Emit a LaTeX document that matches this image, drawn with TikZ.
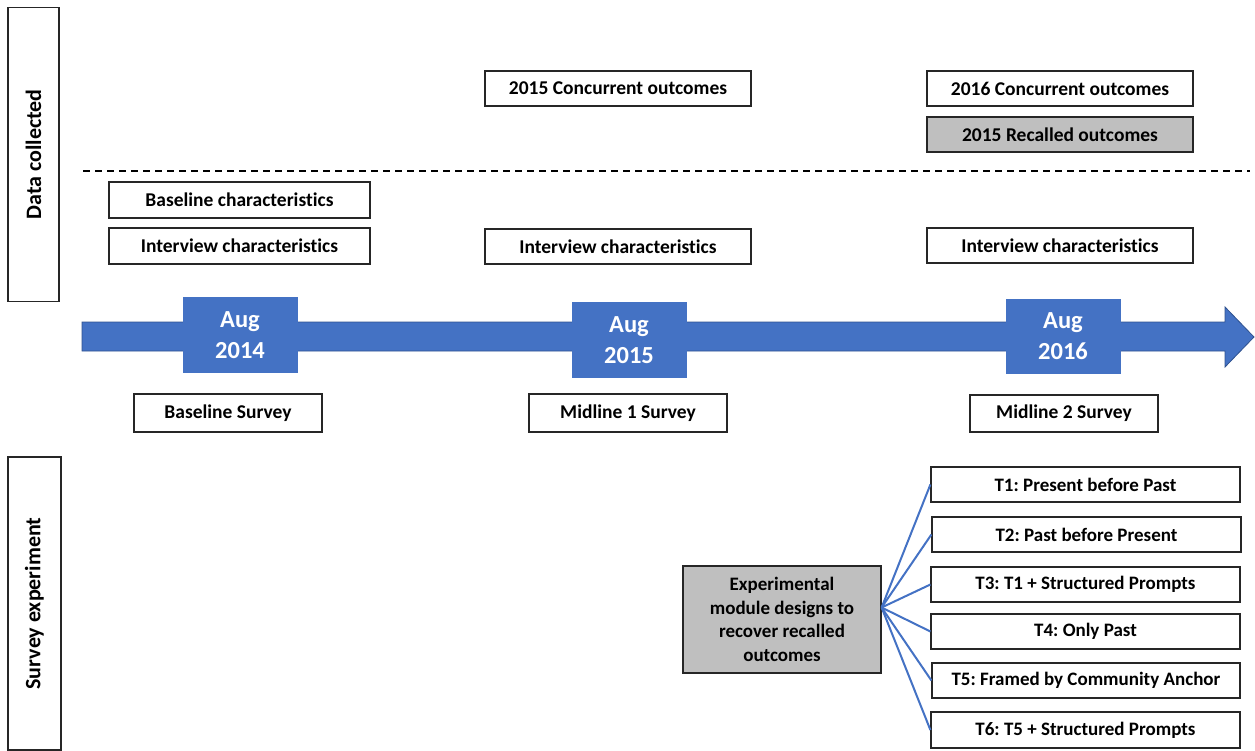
\documentclass[tikz,border=0pt]{standalone}
\usepackage{fontspec}
\setmainfont[Ligatures={NoCommon}]{Carlito}
\frenchspacing
\definecolor{tlblue}{HTML}{4472C4}
\definecolor{tlborder}{HTML}{2F528F}
\definecolor{boxgray}{HTML}{BFBFBF}
\definecolor{edge}{HTML}{262626}
\begin{document}
\begin{tikzpicture}[x=1pt,y=-1pt,
  lbl/.style={font=\fontsize{19.5}{23.5}\selectfont\bfseries},
  tbox/.style={lbl,draw=edge,line width=1.2pt,fill=white,inner sep=0pt,align=center},
  graybox/.style={tbox,fill=boxgray},
  sidebox/.style={draw=edge,line width=1.2pt,inner sep=0pt,font=\fontsize{22}{26}\selectfont\bfseries},
  datebox/.style={fill=tlblue,text=white,inner sep=0pt,align=center,minimum width=115pt,minimum height=75pt,font=\fontsize{24.5}{31}\selectfont\bfseries},
  link/.style={draw=tlblue,line width=2pt}
]
\useasboundingbox (0,0) rectangle (1255,751);

% side labels
\node[sidebox,minimum width=51pt,minimum height=294pt] (dc) at (33.5,154.5) {};
\node[font=\fontsize{22}{26}\selectfont\bfseries,rotate=90] (dct) at (dc.center) {Data collected};
\node[sidebox,minimum width=53pt,minimum height=293pt] (se) at (34.5,603.5) {};
\node[font=\fontsize{22}{26}\selectfont\bfseries,rotate=90] (set) at (se.center) {Survey experiment};

% dashed separator
\coordinate (dl) at (83,171);
\coordinate (dr) at (1250,171);
\draw[dashed,dash pattern=on 7pt off 5pt,line width=1.5pt,black] (dl) -- (dr);

% upper boxes
\node[tbox,minimum width=261pt,minimum height=36pt] (bc) at (239.5,200) {Baseline characteristics};
\node[tbox,minimum width=261pt,minimum height=36pt] (ic1) at (239.5,246) {Interview characteristics};
\node[tbox,minimum width=266pt,minimum height=35pt] (co15) at (618,88.5) {2015 Concurrent outcomes};
\node[tbox,minimum width=266pt,minimum height=35pt] (ic2) at (618,246.5) {Interview characteristics};
\node[tbox,minimum width=266pt,minimum height=35pt] (co16) at (1060,88.5) {2016 Concurrent outcomes};
\node[graybox,minimum width=266pt,minimum height=35pt] (ro15) at (1060,134.5) {2015 Recalled outcomes};
\node[tbox,minimum width=266pt,minimum height=35pt] (ic3) at (1060,245.5) {Interview characteristics};

% timeline arrow
\filldraw[fill=tlblue,draw=tlborder,line width=0.8pt]
  (82,322) -- (1225,322) -- (1225,307) -- (1254,337) -- (1225,367) -- (1225,351) -- (82,351) -- cycle;

% date boxes
\node[datebox,minimum height=76pt] (d14) at (240,335) {Aug\\2014};
\node[datebox,minimum height=76pt] (d15) at (629,340) {Aug\\2015};
\node[datebox,minimum height=75pt] (d16) at (1063,336) {Aug\\2016};

% survey labels
\node[tbox,minimum width=188pt,minimum height=38pt] (bs) at (228,413) {Baseline Survey};
\node[tbox,minimum width=198pt,minimum height=38pt] (m1) at (628,413) {Midline 1 Survey};
\node[tbox,minimum width=188pt,minimum height=37pt] (m2) at (1064,413.5) {Midline 2 Survey};

% experiment
\node[graybox,font=\fontsize{19}{23.5}\selectfont\bfseries,minimum width=198pt,minimum height=107pt] (exp) at (782,619.5) {Experimental\\module designs to\\recover recalled\\outcomes};
\coordinate (hub) at ([yshift=12pt]exp.east);

\node[tbox,font=\fontsize{19}{23}\selectfont\bfseries,minimum width=309pt,minimum height=35pt] (t1) at (1085.5,484.5) {T1: Present before Past};
\node[tbox,font=\fontsize{19}{23}\selectfont\bfseries,minimum width=309pt,minimum height=35pt] (t2) at (1086.5,534.5) {T2: Past before Present};
\node[tbox,font=\fontsize{19}{23}\selectfont\bfseries,minimum width=309pt,minimum height=35pt] (t3) at (1085.5,584.5) {T3: T1 + Structured Prompts};
\node[tbox,font=\fontsize{19}{23}\selectfont\bfseries,minimum width=309pt,minimum height=35pt] (t4) at (1085.5,631.5) {T4: Only Past};
\node[tbox,font=\fontsize{19}{23}\selectfont\bfseries,minimum width=308pt,minimum height=35pt] (t5) at (1086,680.5) {T5: Framed by Community Anchor};
\node[tbox,font=\fontsize{19}{23}\selectfont\bfseries,minimum width=309pt,minimum height=36pt] (t6) at (1085.5,730) {T6: T5 + Structured Prompts};

\foreach \t in {t1,t2,t3,t4,t5,t6}
  \draw[link] (hub) -- (\t.west);
\end{tikzpicture}
\end{document}
